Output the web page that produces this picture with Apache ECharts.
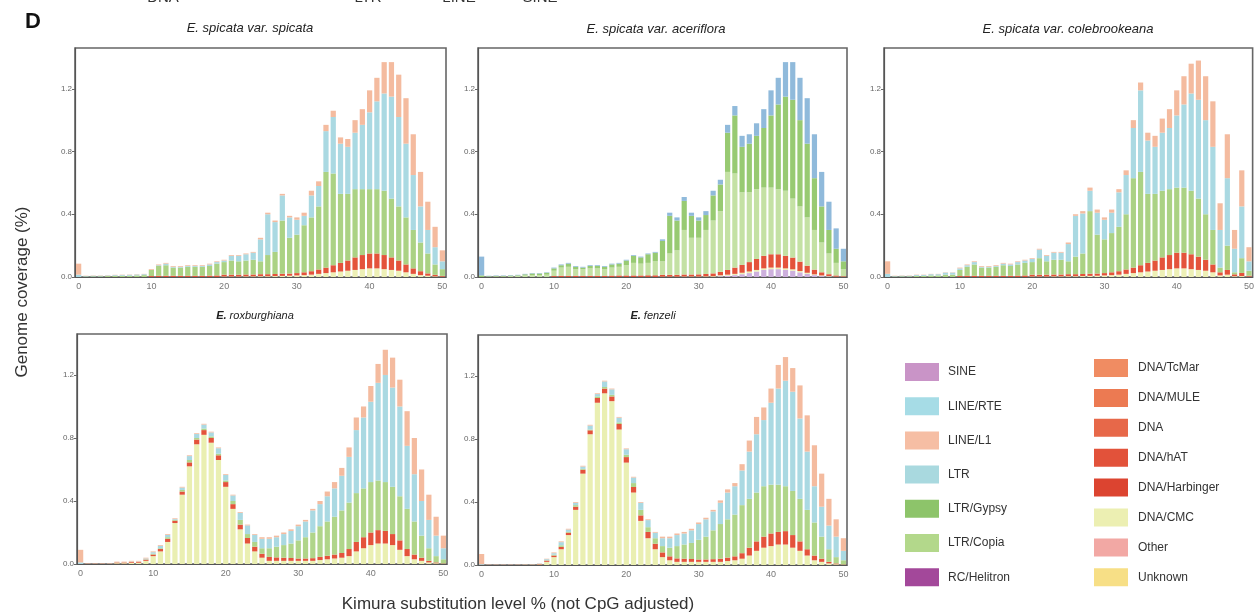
<!DOCTYPE html>
<html>
<head>
<meta charset="utf-8">
<script src="https://cdn.jsdelivr.net/npm/echarts@6/dist/echarts.min.js"></script>
<style>
  html, body { margin: 0; padding: 0; background: #fff; }
  #chart { width: 1257px; height: 616px; }
</style>
</head>
<body>
<div id="chart"></div>
<script>
  // Kimura substitution level bins
  const kimura = [0,1,2,3,4,5,6,7,8,9,10,11,12,13,14,15,16,17,18,19,20,21,22,23,24,25,
    26,27,28,29,30,31,32,33,34,35,36,37,38,39,40,41,42,43,44,45,46,47,48,49,50];
  const yTicks = [0, 0.4, 0.8, 1.2];

  // E. spicata var. spicata
  const spicataCmc = [0,0,0,0,0,0,0,0,0,0,
    0,0,0,0,0,0,0,0,0,0,
    0.003,0.003,0.003,0.004,0.004,0.005,0.005,0.006,0.007,0.008,
    0.01,0.012,0.015,0.02,0.025,0.03,0.035,0.04,0.045,0.05,
    0.055,0.055,0.05,0.045,0.04,0.03,0.02,0.012,0.008,0.004,
    0.002];
  const spicataHat = [0,0,0,0,0,0,0,0,0,0,
    0.006,0.008,0.008,0.008,0.008,0.008,0.008,0.008,0.009,0.01,
    0.012,0.012,0.012,0.012,0.012,0.013,0.013,0.013,0.014,0.014,
    0.015,0.018,0.022,0.028,0.035,0.045,0.055,0.065,0.08,0.09,
    0.095,0.095,0.09,0.08,0.065,0.05,0.035,0.025,0.015,0.01,
    0.005];
  const spicataCopia = [0,0.003,0.004,0.004,0.006,0.007,0.008,0.008,0.01,0.012,
    0.039,0.062,0.067,0.052,0.052,0.057,0.057,0.057,0.061,0.075,
    0.08,0.09,0.085,0.089,0.094,0.082,0.122,0.141,0.339,0.228,
    0.245,0.3,0.343,0.402,0.61,0.585,0.44,0.425,0.435,0.42,
    0.41,0.41,0.41,0.375,0.345,0.3,0.245,0.183,0.127,0.066,
    0.043];
  const spicataLtr = [0.015,0.003,0.004,0.004,0.004,0.005,0.005,0.006,0.006,0.006,
    0,0.005,0.01,0.005,0.005,0.005,0.005,0.005,0.01,0.01,
    0.01,0.03,0.035,0.04,0.045,0.14,0.26,0.19,0.16,0.13,
    0.095,0.06,0.14,0.13,0.26,0.36,0.32,0.3,0.36,0.41,
    0.49,0.56,0.62,0.65,0.57,0.47,0.35,0.23,0.15,0.11,
    0.05];
  const spicataL1 = [0.07,0.002,0.002,0.002,0.002,0.002,0.002,0.002,0.002,0.002,
    0.005,0.005,0.005,0.005,0.005,0.005,0.005,0.005,0.005,0.005,
    0.005,0.005,0.005,0.005,0.005,0.01,0.01,0.01,0.01,0.01,
    0.015,0.02,0.03,0.03,0.04,0.04,0.04,0.05,0.08,0.1,
    0.14,0.15,0.2,0.22,0.27,0.29,0.26,0.22,0.18,0.13,
    0.07];

  // E. spicata var. aceriflora
  const aceriSine = [0,0,0,0,0,0,0,0,0,0,
    0,0,0,0,0,0,0,0,0,0,
    0,0,0,0,0,0,0,0,0,0,
    0,0,0,0.005,0.008,0.012,0.018,0.025,0.035,0.045,
    0.05,0.05,0.045,0.04,0.03,0.02,0.012,0.006,0.003,0,
    0];
  const aceriCmc = [0,0,0,0,0,0,0,0,0,0,
    0,0,0,0,0,0,0,0,0,0,
    0,0,0,0,0,0.002,0.002,0.002,0.003,0.003,
    0.003,0.004,0.005,0.006,0.007,0.008,0.009,0.01,0.01,0.01,
    0.01,0.01,0.01,0.009,0.008,0.007,0.005,0.004,0.003,0.002,
    0.001];
  const aceriHat = [0,0,0,0,0,0,0,0,0,0,
    0.006,0.008,0.008,0.008,0.008,0.008,0.008,0.008,0.009,0.01,
    0.01,0.01,0.01,0.011,0.011,0.012,0.012,0.012,0.013,0.013,
    0.014,0.015,0.018,0.022,0.03,0.04,0.05,0.06,0.07,0.08,
    0.085,0.085,0.08,0.075,0.06,0.045,0.03,0.02,0.012,0.008,
    0.004];
  const aceriCopia = [0,0.003,0.004,0.004,0.006,0.007,0.01,0.012,0.012,0.015,
    0.034,0.052,0.057,0.042,0.042,0.047,0.047,0.042,0.051,0.055,
    0.065,0.08,0.075,0.079,0.089,0.086,0.136,0.156,0.284,0.234,
    0.233,0.281,0.337,0.387,0.625,0.6,0.463,0.445,0.445,0.435,
    0.425,0.415,0.415,0.376,0.352,0.308,0.253,0.19,0.132,0.08,
    0.045];
  const aceriGypsy = [0.01,0.002,0.003,0.003,0.003,0.004,0.007,0.01,0.01,0.012,
    0.015,0.015,0.02,0.015,0.01,0.015,0.015,0.015,0.02,0.02,
    0.03,0.045,0.04,0.055,0.055,0.13,0.24,0.19,0.185,0.14,
    0.11,0.095,0.16,0.17,0.25,0.37,0.29,0.31,0.34,0.38,
    0.46,0.54,0.6,0.63,0.55,0.47,0.33,0.23,0.15,0.09,
    0.05];
  const aceriRte = [0.12,0.003,0.003,0.003,0.003,0.003,0.003,0.003,0.003,0.003,
    0.005,0.005,0.005,0.005,0.005,0.005,0.005,0.005,0.005,0.005,
    0.005,0.005,0.005,0.005,0.005,0.01,0.02,0.02,0.025,0.02,
    0.02,0.025,0.03,0.03,0.05,0.06,0.07,0.06,0.08,0.12,
    0.16,0.17,0.22,0.24,0.27,0.29,0.28,0.22,0.18,0.13,
    0.08];

  // E. spicata var. colebrookeana
  const coleCmc = [0,0,0,0,0,0,0,0,0,0,
    0,0,0,0,0,0,0,0,0,0,
    0.003,0.003,0.003,0.004,0.004,0.005,0.005,0.006,0.007,0.008,
    0.01,0.012,0.015,0.02,0.025,0.03,0.035,0.04,0.045,0.05,
    0.055,0.055,0.05,0.045,0.04,0.03,0.01,0.015,0.005,0.006,
    0.002];
  const coleHat = [0,0,0,0,0,0,0,0,0,0,
    0.006,0.008,0.008,0.008,0.008,0.008,0.008,0.008,0.009,0.01,
    0.012,0.012,0.012,0.012,0.012,0.013,0.013,0.013,0.014,0.014,
    0.015,0.018,0.022,0.028,0.035,0.045,0.055,0.065,0.08,0.09,
    0.1,0.1,0.095,0.085,0.07,0.05,0.02,0.03,0.012,0.02,
    0.006];
  const coleCopia = [0,0.003,0.004,0.004,0.007,0.007,0.01,0.01,0.015,0.015,
    0.039,0.057,0.072,0.052,0.052,0.057,0.067,0.062,0.071,0.08,
    0.08,0.105,0.085,0.094,0.094,0.082,0.112,0.131,0.399,0.248,
    0.215,0.25,0.283,0.352,0.57,0.595,0.44,0.425,0.425,0.42,
    0.415,0.415,0.405,0.37,0.29,0.22,0.03,0.155,0.013,0.094,
    0.032];
  const coleLtr = [0.02,0.003,0.004,0.004,0.006,0.006,0.008,0.008,0.013,0.013,
    0.01,0.01,0.015,0.005,0.005,0.005,0.01,0.01,0.015,0.015,
    0.02,0.055,0.035,0.045,0.045,0.11,0.26,0.255,0.13,0.14,
    0.125,0.13,0.22,0.25,0.32,0.52,0.34,0.3,0.37,0.39,
    0.46,0.53,0.62,0.63,0.6,0.53,0.24,0.43,0.15,0.33,
    0.06];
  const coleL1 = [0.08,0.002,0.002,0.002,0.002,0.002,0.002,0.002,0.002,0.002,
    0.005,0.005,0.005,0.005,0.005,0.005,0.005,0.005,0.005,0.005,
    0.005,0.005,0.005,0.005,0.005,0.01,0.01,0.015,0.02,0.02,
    0.015,0.02,0.02,0.03,0.05,0.05,0.05,0.07,0.09,0.12,
    0.16,0.18,0.19,0.25,0.28,0.29,0.17,0.28,0.12,0.23,
    0.09];

  // E. roxburghiana
  const roxCmc = [0,0.001,0.001,0.001,0.001,0.005,0.005,0.008,0.008,0.02,
    0.05,0.08,0.14,0.26,0.44,0.62,0.76,0.82,0.77,0.66,
    0.49,0.35,0.22,0.13,0.08,0.04,0.02,0.02,0.02,0.02,
    0.02,0.02,0.02,0.025,0.03,0.035,0.04,0.05,0.08,0.1,
    0.12,0.13,0.13,0.12,0.09,0.05,0.03,0.02,0.01,0.005,
    0.002];
  const roxHat = [0,0.001,0.001,0.001,0.001,0.004,0.004,0.005,0.005,0.008,
    0.01,0.015,0.02,0.015,0.02,0.025,0.03,0.03,0.03,0.03,
    0.03,0.03,0.03,0.035,0.03,0.025,0.025,0.022,0.02,0.018,
    0.015,0.015,0.017,0.02,0.022,0.025,0.03,0.045,0.06,0.07,
    0.08,0.085,0.08,0.07,0.06,0.045,0.03,0.02,0.01,0.005,
    0.002];
  const roxCopia = [0,0,0,0,0,0.001,0.001,0,0,0.002,
    0.005,0.005,0.01,0.005,0.01,0.015,0.01,0.01,0.01,0.01,
    0.01,0.02,0.03,0.025,0.03,0.035,0.055,0.068,0.08,0.092,
    0.115,0.135,0.163,0.195,0.218,0.24,0.27,0.295,0.31,0.31,
    0.32,0.315,0.31,0.3,0.28,0.255,0.21,0.14,0.08,0.04,
    0.026];
  const roxLtr = [0.01,0,0,0,0.001,0,0,0.002,0.002,0.005,
    0.01,0.015,0.015,0.005,0.015,0.025,0.025,0.025,0.025,0.035,
    0.035,0.035,0.045,0.055,0.045,0.06,0.06,0.06,0.07,0.08,
    0.09,0.1,0.14,0.14,0.16,0.18,0.22,0.29,0.4,0.45,
    0.51,0.62,0.68,0.63,0.57,0.4,0.3,0.22,0.18,0.13,
    0.07];
  const roxL1 = [0.08,0.002,0.002,0.002,0.002,0.005,0.005,0.005,0.005,0.005,
    0.005,0.005,0.005,0.005,0.005,0.005,0.005,0.005,0.005,0.005,
    0.005,0.005,0.005,0.005,0.005,0.01,0.01,0.01,0.01,0.01,
    0.01,0.01,0.01,0.02,0.03,0.04,0.05,0.06,0.08,0.07,
    0.1,0.12,0.16,0.19,0.17,0.22,0.23,0.2,0.16,0.12,
    0.08];

  // E. fenzeli
  const fenCmc = [0,0.001,0.001,0.001,0.001,0.001,0.002,0.002,0.004,0.02,
    0.05,0.1,0.19,0.35,0.58,0.83,1.03,1.09,1.04,0.86,
    0.65,0.46,0.28,0.17,0.1,0.05,0.03,0.02,0.02,0.02,
    0.02,0.02,0.02,0.02,0.025,0.03,0.04,0.06,0.09,0.11,
    0.12,0.13,0.13,0.11,0.09,0.06,0.03,0.02,0.01,0.005,
    0.002];
  const fenHat = [0,0.001,0.001,0.001,0.001,0.001,0.001,0.001,0.003,0.008,
    0.01,0.015,0.015,0.02,0.025,0.025,0.03,0.03,0.03,0.035,
    0.035,0.035,0.035,0.04,0.035,0.03,0.025,0.022,0.02,0.018,
    0.015,0.015,0.017,0.02,0.022,0.025,0.035,0.05,0.06,0.07,
    0.08,0.08,0.085,0.08,0.06,0.04,0.03,0.02,0.01,0.005,
    0.002];
  const fenCopia = [0,0,0,0,0,0,0,0,0,0.002,
    0.005,0.01,0.005,0.01,0.005,0.005,0.01,0.01,0.01,0.01,
    0.015,0.025,0.035,0.03,0.035,0.04,0.055,0.078,0.09,0.102,
    0.125,0.145,0.183,0.22,0.243,0.265,0.305,0.31,0.31,0.32,
    0.31,0.3,0.285,0.28,0.27,0.25,0.21,0.14,0.08,0.04,
    0.026];
  const fenLtr = [0.005,0.001,0.001,0.001,0.001,0.001,0.001,0.001,0.002,0.007,
    0.01,0.02,0.015,0.015,0.015,0.025,0.015,0.035,0.035,0.03,
    0.035,0.035,0.045,0.045,0.035,0.05,0.06,0.07,0.07,0.08,
    0.1,0.11,0.12,0.135,0.17,0.18,0.22,0.3,0.37,0.42,
    0.52,0.61,0.67,0.63,0.51,0.37,0.23,0.19,0.15,0.13,
    0.06];
  const fenL1 = [0.065,0.001,0.001,0.001,0.001,0.001,0.001,0.001,0.001,0.003,
    0.005,0.005,0.005,0.005,0.005,0.005,0.005,0.005,0.005,0.005,
    0.005,0.005,0.005,0.005,0.005,0.01,0.01,0.01,0.01,0.01,
    0.01,0.01,0.01,0.015,0.02,0.02,0.04,0.07,0.11,0.08,
    0.09,0.15,0.15,0.15,0.21,0.23,0.26,0.21,0.17,0.11,
    0.08];

  const legendLeft = ['SINE', 'LINE/RTE', 'LINE/L1', 'LTR', 'LTR/Gypsy', 'LTR/Copia', 'RC/Helitron'];
  const legendRight = ['DNA/TcMar', 'DNA/MULE', 'DNA', 'DNA/hAT', 'DNA/Harbinger', 'DNA/CMC', 'Other', 'Unknown'];

  const colors = {
    'SINE': '#c994c7', 'LINE/RTE': '#a6dce6', 'LINE/L1': '#f6bea4', 'LTR': '#a9d9df',
    'LTR/Gypsy': '#8dc46a', 'LTR/Copia': '#b3d88b', 'RC/Helitron': '#a3489a',
    'DNA/TcMar': '#f08c62', 'DNA/MULE': '#ec7a52', 'DNA': '#e76849', 'DNA/hAT': '#e2523a',
    'DNA/Harbinger': '#dc4430', 'DNA/CMC': '#ecefb2', 'Other': '#f2a8a4', 'Unknown': '#f7df86'
  };

  const panels = [
    { title: 'E. spicata var. spicata', tx: 250, ty: 28, size: 13,
      grid: { left: 75, top: 48, width: 371, height: 229 },
      parts: [['DNA/CMC', spicataCmc, '#edf0b6'], ['DNA/hAT', spicataHat, '#e4533b'],
              ['LTR/Copia', spicataCopia, '#abd284'], ['LTR', spicataLtr, '#aad9e2'],
              ['LINE/L1', spicataL1, '#f4bb9f']] },
    { title: 'E. spicata var. aceriflora', tx: 656, ty: 29, size: 13,
      grid: { left: 478, top: 48, width: 369, height: 229 },
      parts: [['SINE', aceriSine, '#cdb0dd'], ['DNA/CMC', aceriCmc, '#edf0b6'],
              ['DNA/hAT', aceriHat, '#e4533b'], ['LTR/Copia', aceriCopia, '#c4e1a4'],
              ['LTR/Gypsy', aceriGypsy, '#98ca72'], ['LINE/RTE', aceriRte, '#90badb']] },
    { title: 'E. spicata var. colebrookeana', tx: 1068, ty: 29, size: 13,
      grid: { left: 884, top: 48, width: 371, height: 229 },
      parts: [['DNA/CMC', coleCmc, '#edf0b6'], ['DNA/hAT', coleHat, '#e4533b'],
              ['LTR/Copia', coleCopia, '#abd284'], ['LTR', coleLtr, '#aad9e2'],
              ['LINE/L1', coleL1, '#f4bb9f']] },
    { title: '{b|E.} roxburghiana', tx: 255, ty: 316, size: 11,
      grid: { left: 77, top: 334, width: 370, height: 230 },
      parts: [['DNA/CMC', roxCmc, '#eaefb2'], ['DNA/hAT', roxHat, '#e4533b'],
              ['LTR/Copia', roxCopia, '#b0d58a'], ['LTR', roxLtr, '#aad9e2'],
              ['LINE/L1', roxL1, '#f4bb9f']] },
    { title: '{b|E.} fenzeli', tx: 653, ty: 316, size: 11,
      grid: { left: 478, top: 335, width: 369, height: 230 },
      parts: [['DNA/CMC', fenCmc, '#eaefb2'], ['DNA/hAT', fenHat, '#e4533b'],
              ['LTR/Copia', fenCopia, '#b0d58a'], ['LTR', fenLtr, '#aad9e2'],
              ['LINE/L1', fenL1, '#f4bb9f']] }
  ];

  const chart = echarts.init(document.getElementById('chart'));

  const grids = [], xAxes = [], yAxes = [], series = [], texts = [];

  // legend-only series so swatches take the legend colours
  legendLeft.concat(legendRight).forEach(name => {
    series.push({ type: 'bar', name: name, data: [], xAxisIndex: 0, yAxisIndex: 0,
      stack: 'p0', itemStyle: { color: colors[name] } });
  });

  panels.forEach((p, i) => {
    grids.push(Object.assign({ show: true, borderColor: '#666', borderWidth: 1.6,
      backgroundColor: 'transparent' }, p.grid));
    xAxes.push({
      type: 'category', gridIndex: i, data: kimura, boundaryGap: true,
      axisLine: { lineStyle: { color: '#555', width: 1.2 } },
      axisTick: { alignWithLabel: true, interval: 9, length: 4, lineStyle: { color: '#666' } },
      axisLabel: { interval: 9, fontSize: 9, color: '#777', margin: 5, fontFamily: 'Liberation Sans' }
    });
    yAxes.push({
      type: 'value', gridIndex: i, min: 0, max: 1.46,
      splitLine: { show: false },
      axisLine: { show: true, lineStyle: { color: '#555', width: 1.2 } },
      axisTick: { show: true, length: 3, customValues: yTicks, lineStyle: { color: '#666' } },
      axisLabel: { customValues: yTicks, fontSize: 8, color: '#666', margin: 3,
        fontFamily: 'Liberation Sans', formatter: v => v.toFixed(1) }
    });
    p.parts.forEach(([name, data, color]) => {
      series.push({
        type: 'bar', name: name, data: data, xAxisIndex: i, yAxisIndex: i,
        stack: 'p' + i, barCategoryGap: '28%', itemStyle: { color: color }
      });
    });
    texts.push({
      type: 'text', x: p.tx, y: p.ty,
      style: { text: p.title, x: 0, y: 0, align: 'center', verticalAlign: 'middle',
        font: 'italic ' + p.size + 'px "Liberation Sans", Arial', fill: '#222',
        rich: { b: { fontWeight: 'bold', fontStyle: 'italic', fontSize: p.size,
          fontFamily: 'Liberation Sans', fill: '#222' } } }
    });
  });

  const cutLabel = (text, x) => ({ type: 'text', x: x, y: 5,
    style: { text: text, align: 'center', verticalAlign: 'bottom',
      font: '15px "Liberation Sans", Arial', fill: '#333' } });

  texts.push(
    { type: 'text', x: 33, y: 22, style: { text: 'D', align: 'center', verticalAlign: 'middle',
      font: 'bold 22px "Liberation Sans", Arial', fill: '#111' } },
    { type: 'text', x: 22, y: 292, rotation: Math.PI / 2,
      style: { text: 'Genome coverage (%)', align: 'center', verticalAlign: 'middle',
        font: '17px "Liberation Sans", Arial', fill: '#333' } },
    { type: 'text', x: 518, y: 604, style: { text: 'Kimura substitution level % (not CpG adjusted)',
      align: 'center', verticalAlign: 'middle', font: '17px "Liberation Sans", Arial', fill: '#333' } },
    // labels of the panel above, cut off at the top edge
    cutLabel('DNA', 163), cutLabel('LTR', 368), cutLabel('LINE', 459), cutLabel('SINE', 540)
  );

  chart.setOption({
    animation: false,
    backgroundColor: '#fff',
    textStyle: { fontFamily: 'Liberation Sans' },
    grid: grids,
    xAxis: xAxes,
    yAxis: yAxes,
    legend: [
      { left: 900, top: 358, orient: 'vertical', icon: 'rect', itemWidth: 34, itemHeight: 18,
        itemGap: 16.2, selectedMode: false, data: legendLeft,
        textStyle: { fontSize: 12, color: '#333', padding: [0, 0, 0, 4] } },
      { left: 1089, top: 354, orient: 'vertical', icon: 'rect', itemWidth: 34, itemHeight: 18,
        itemGap: 11.9, selectedMode: false, data: legendRight,
        textStyle: { fontSize: 12, color: '#333', padding: [0, 0, 0, 5] } }
    ],
    graphic: texts,
    series: series
  });
</script>
</body>
</html>
